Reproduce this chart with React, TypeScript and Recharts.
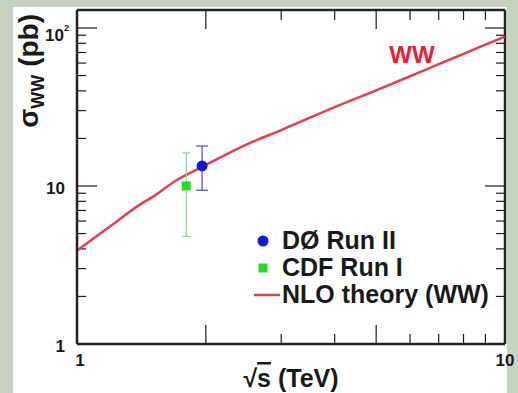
import {
  ComposedChart,
  ErrorBar,
  Legend,
  Line,
  ReferenceDot,
  ReferenceLine,
  Scatter,
  XAxis,
  YAxis,
} from "recharts";

const W = 518;
const H = 393;
const MARGIN = { top: 10, right: 13, left: 0, bottom: 0 };
const Y_AXIS_W = 77;
const X_AXIS_H = 49;

const FONT = '"Liberation Sans", Arial, Helvetica, sans-serif';
const INK = "#1a1a1a";
const FRAME = { stroke: "#222", strokeWidth: 2.5 };
const RED = "#e23f52";

// NLO theory curve, sqrt(s) in TeV -> sigma_WW in pb
const ENERGY = [1, 1.2, 1.4, 1.5, 1.7, 1.96, 2.5, 3, 4, 5, 6, 7, 8, 9, 10];
const NLO_XS = [3.9, 5.6, 7.6, 8.5, 10.8, 13.2, 18.4, 22.6, 31.6, 40.3, 49.5, 59, 68.6, 78.4, 88];

// measurements: value and [down, up] errors
const D0_X = [1.96];
const D0_Y = [13.4];
const D0_ERR = [[4.0, 4.5]];
const CDF_X = [1.8];
const CDF_Y = [10.0];
const CDF_ERR = [[5.2, 6.2]];

const X_MIN = 1;
const X_MAX = 10;
const Y_MIN = 1;
const Y_MAX = 130;
const X_TICKS = [1, 2, 3, 4, 5, 6, 7, 8, 9, 10];
const Y_TICKS = [1, 2, 3, 4, 5, 6, 7, 8, 9, 10, 20, 30, 40, 50, 60, 70, 80, 90, 100];
const X_MAJOR = [2, 5];
const Y_MAJOR = [1, 10, 100];

const LEGEND_ITEMS = [
  { name: "DØ Run II", color: "#1515d8", kind: "circle" },
  { name: "CDF Run I", color: "#22dd22", kind: "square" },
  { name: "NLO theory (WW)", color: RED, kind: "line" },
];

const theory = ENERGY.map((x, i) => ({ x, y: NLO_XS[i] }));
const d0 = D0_X.map((x, i) => ({ x, y: D0_Y[i], err: D0_ERR[i] }));
const cdf = CDF_X.map((x, i) => ({ x, y: CDF_Y[i], err: CDF_ERR[i] }));

// ROOT-style inward tick marks: pixel lengths turned into log-axis factors
const PLOT_W = W - MARGIN.left - MARGIN.right - Y_AXIS_W;
const PLOT_H = H - MARGIN.top - MARGIN.bottom - X_AXIS_H;
const xFactor = (px: number) => Math.pow(X_MAX / X_MIN, px / PLOT_W);
const yFactor = (px: number) => Math.pow(Y_MAX / Y_MIN, px / PLOT_H);

const xTickMarks = X_TICKS.filter((v) => v > X_MIN && v < X_MAX).flatMap((v) => {
  const f = yFactor(X_MAJOR.includes(v) ? 19 : 10);
  return [
    [{ x: v, y: Y_MIN }, { x: v, y: Y_MIN * f }],
    [{ x: v, y: Y_MAX }, { x: v, y: Y_MAX / f }],
  ];
});
const yTickMarks = Y_TICKS.filter((v) => v > Y_MIN).flatMap((v) => {
  const f = xFactor(Y_MAJOR.includes(v) ? 20 : 9);
  return [
    [{ x: X_MIN, y: v }, { x: X_MIN * f, y: v }],
    [{ x: X_MAX, y: v }, { x: X_MAX / f, y: v }],
  ];
});

function XTick(props: any) {
  const x = Number(props.x);
  const y = Number(props.y);
  const v = props.payload.value;
  if (v !== X_MIN && v !== X_MAX) return <g />;
  return (
    <text x={v === X_MIN ? x + 3 : x} y={y + 22} textAnchor="middle" fontSize={17} fontWeight="bold" fill={INK} fontFamily={FONT}>
      {v}
    </text>
  );
}

function YTick(props: any) {
  const x = Number(props.x);
  const y = Number(props.y);
  const v = props.payload.value;
  if (!Y_MAJOR.includes(v)) return <g />;
  return (
    <text x={v === 100 ? x - 8 : x - 12} y={v === 100 ? y + 13 : y + 8} textAnchor="end" fontSize={17} fontWeight="bold" fill={INK} fontFamily={FONT}>
      {v === 100 ? (
        <>
          <tspan>10</tspan>
          <tspan fontSize={9} dy={-10}>2</tspan>
        </>
      ) : (
        v
      )}
    </text>
  );
}

function XTitle({ viewBox }: any) {
  const cx = viewBox.x + viewBox.width / 2;
  return (
    <text x={cx} y={viewBox.y + 43} textAnchor="middle" fontSize={25} fontWeight="bold" fill={INK} fontFamily={FONT}>
      <tspan>√</tspan>
      <tspan style={{ textDecoration: "overline" }}>s</tspan>
      <tspan> (TeV)</tspan>
    </text>
  );
}

function YTitle() {
  const x = 38;
  const y = 14;
  return (
    <text x={x} y={y} transform={`rotate(-90 ${x} ${y})`} textAnchor="end" fontSize={28} fontWeight="bold" fill={INK} fontFamily={FONT}>
      <tspan>σ</tspan>
      <tspan fontSize={18} dy={6}>WW</tspan>
      <tspan dy={-6}> (pb)</tspan>
    </text>
  );
}

function LegendBox() {
  return (
    <div style={{ fontFamily: FONT, fontWeight: "bold", fontSize: 25, color: INK }}>
      {LEGEND_ITEMS.map((it) => (
        <div key={it.name} style={{ display: "flex", alignItems: "center", height: 27, whiteSpace: "nowrap" }}>
          <svg width={34} height={27}>
            {it.kind === "circle" && <circle cx={13} cy={14} r={5.5} fill={it.color} />}
            {it.kind === "square" && <rect x={8.5} y={9.5} width={9} height={9} fill={it.color} />}
            {it.kind === "line" && <line x1={4} x2={30} y1={14} y2={14} stroke={it.color} strokeWidth={2.5} />}
          </svg>
          <span style={{ marginLeft: -2 }}>{it.name}</span>
        </div>
      ))}
    </div>
  );
}

export default function App() {
  return (
    <div style={{ position: "absolute", left: 0, top: 0, width: W, height: H, background: "#c8d2c1", overflow: "hidden" }}>
      <div style={{ position: "absolute", left: 13, top: 7, width: 494, height: H - 7, background: "#ffffff" }} />
      <div style={{ position: "absolute", left: 0, top: 0 }}>
        <ComposedChart width={W} height={H} margin={MARGIN}>
          <XAxis
            dataKey="x"
            type="number"
            scale="log"
            domain={[X_MIN, X_MAX]}
            allowDataOverflow
            ticks={X_TICKS}
            interval={0}
            height={X_AXIS_H}
            axisLine={FRAME}
            tickLine={false}
            tickSize={0}
            tickMargin={0}
            tick={<XTick />}
            label={<XTitle />}
          />
          <YAxis
            type="number"
            scale="log"
            domain={[Y_MIN, Y_MAX]}
            allowDataOverflow
            ticks={Y_TICKS}
            interval={0}
            width={Y_AXIS_W}
            axisLine={FRAME}
            tickLine={false}
            tickSize={0}
            tickMargin={0}
            tick={<YTick />}
            label={<YTitle />}
          />
          {[...xTickMarks, ...yTickMarks].map((seg, i) => (
            <ReferenceLine key={i} segment={seg} stroke={INK} strokeWidth={1.2} ifOverflow="visible" />
          ))}
          <ReferenceLine y={Y_MAX} {...FRAME} ifOverflow="visible" />
          <ReferenceLine x={X_MAX} {...FRAME} ifOverflow="visible" />
          <Line
            data={theory}
            dataKey="y"
            type="monotone"
            stroke={RED}
            strokeWidth={2.5}
            dot={false}
            isAnimationActive={false}
          />
          <Scatter
            data={cdf}
            dataKey="y"
            isAnimationActive={false}
            shape={(p: any) => <rect x={p.cx - 4.5} y={p.cy - 4.5} width={9} height={9} fill="#22dd22" />}
          >
            <ErrorBar dataKey="err" direction="y" width={4} stroke="#86d886" strokeWidth={1.2} isAnimationActive={false} />
          </Scatter>
          <Scatter
            data={d0}
            dataKey="y"
            isAnimationActive={false}
            shape={(p: any) => <circle cx={p.cx} cy={p.cy} r={5.5} fill="#1515d8" />}
          >
            <ErrorBar dataKey="err" direction="y" width={6} stroke="#4a4ac8" strokeWidth={1.2} isAnimationActive={false} />
          </Scatter>
          <ReferenceDot
            x={6.06}
            y={68}
            r={0}
            fill="none"
            stroke="none"
            label={{ value: "WW", position: "center", fill: "#ee1c2e", fontSize: 24, fontWeight: "bold", fontFamily: FONT }}
          />
          <Legend
            layout="horizontal"
            verticalAlign="middle"
            align="center"
            content={<LegendBox />}
            wrapperStyle={{ left: 250, top: 227, width: 262 }}
          />
        </ComposedChart>
      </div>
    </div>
  );
}
